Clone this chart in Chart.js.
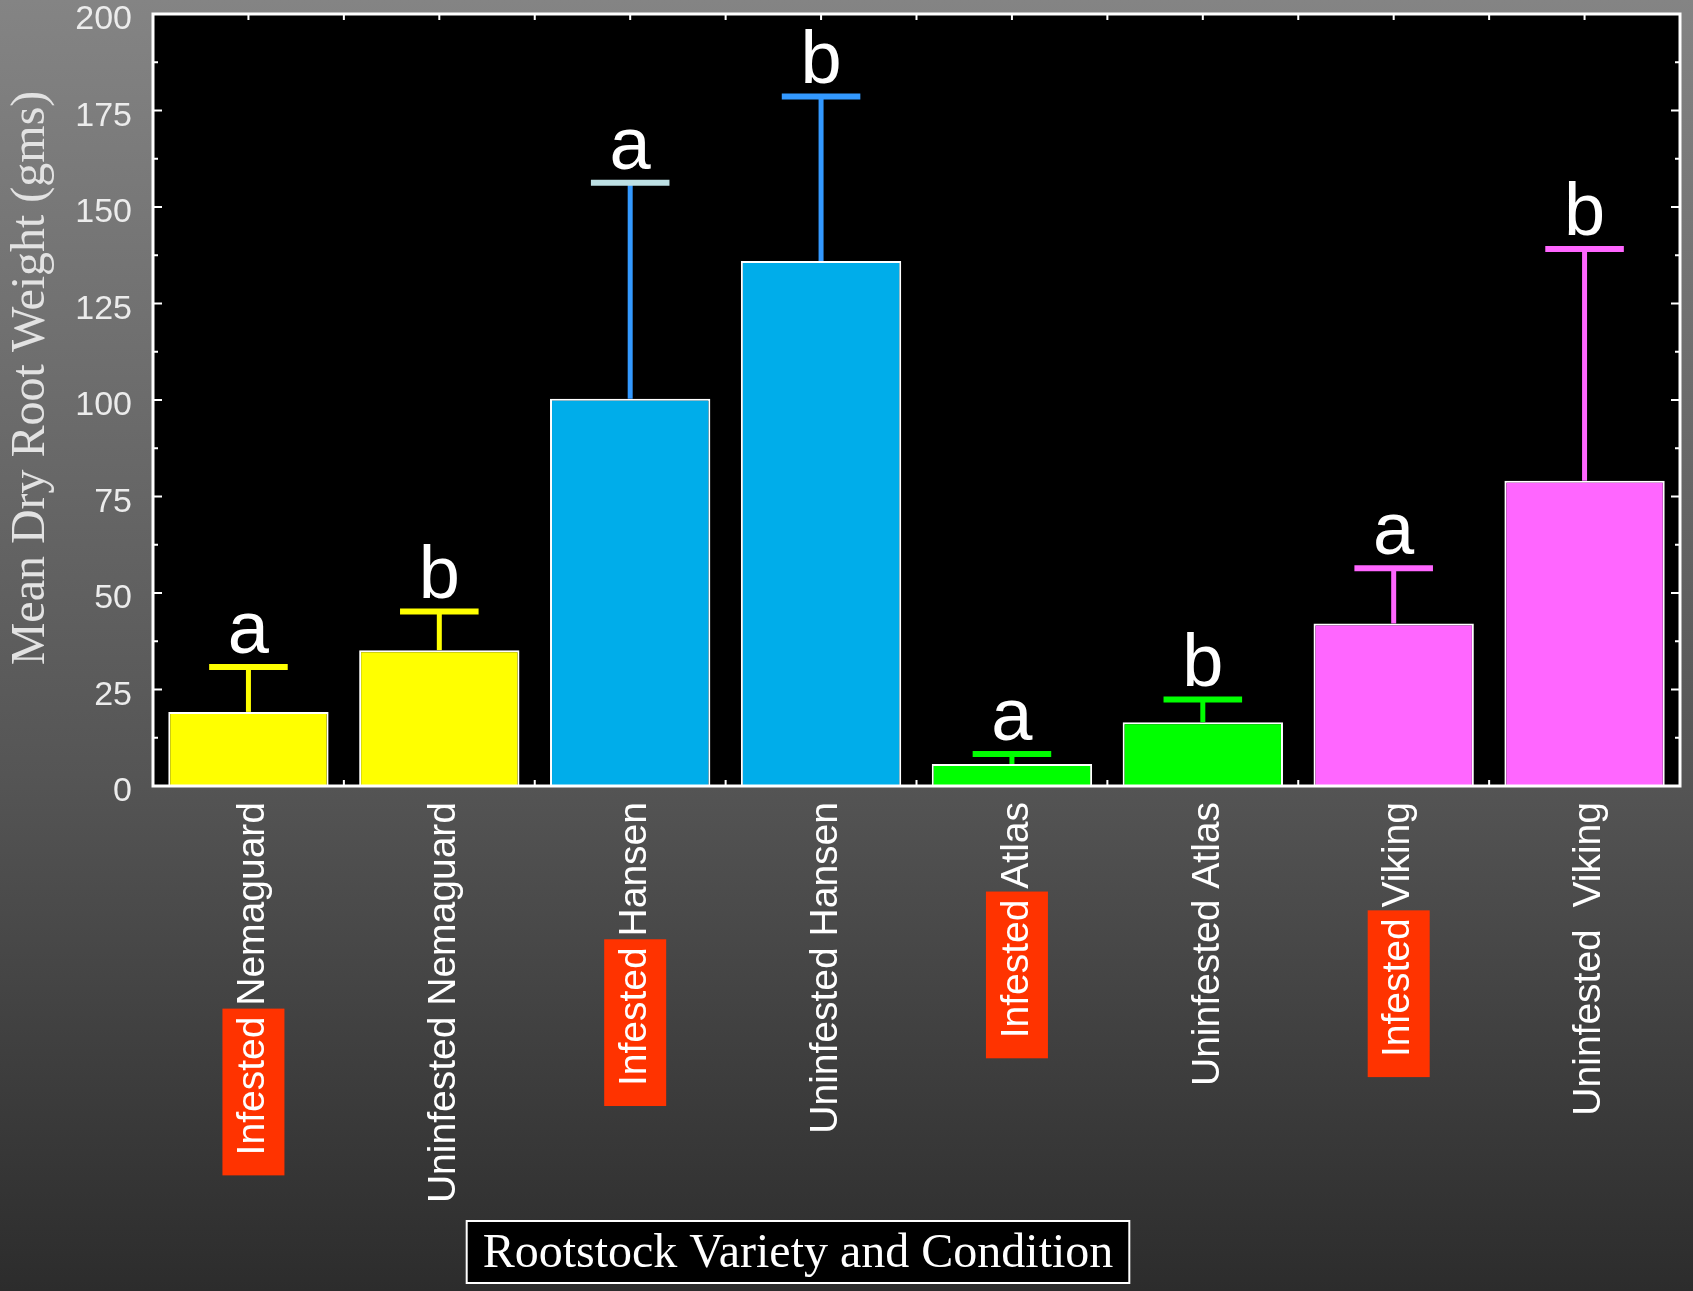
<!DOCTYPE html>
<html>
<head>
<meta charset="utf-8">
<title>Mean Dry Root Weight</title>
<script src="https://cdn.jsdelivr.net/npm/chart.js@4.4.0/dist/chart.umd.min.js"></script>
<style>
  html, body { margin: 0; padding: 0; background: #2b2b2b; }
  canvas { display: block; }
</style>
</head>
<body>
<canvas id="root-chart" width="1693" height="1291"></canvas>
<script>
// Chart values
const categories = [
  "Infested Nemaguard",
  "Uninfested Nemaguard",
  "Infested Hansen",
  "Uninfested Hansen",
  "Infested Atlas",
  "Uninfested Atlas",
  "Infested Viking",
  "Uninfested  Viking",
];
const meanWeight = [19.2, 35.2, 100.3, 136.0, 5.7, 16.5, 42.1, 79.1];
const stdError = [11.6, 10.0, 56.0, 42.6, 2.6, 5.9, 14.3, 60.0];
const groupLetters = ["a", "b", "a", "b", "a", "b", "a", "b"];
const yMin = 0;
const yMax = 200;
const yStep = 12.5; // minor ticks, labels every 25

const barColors = ["#ffff00", "#ffff00", "#00adea", "#00adea", "#00ff00", "#00ff00", "#ff66ff", "#ff66ff"];
const errorColors = ["#ffff00", "#ffff00", "#3399ff", "#3399ff", "#00ff00", "#00ff00", "#ff66ff", "#ff66ff"];
const capColors = ["#ffff00", "#ffff00", "#bde0e4", "#3399ff", "#00ff00", "#00ff00", "#ff66ff", "#ff66ff"];

const highlightWord = "Infested";
const yTitle = "Mean Dry Root Weight (gms)";
const xTitle = "Rootstock Variety and Condition";

const SANS = "'Liberation Sans', Arial, sans-serif";
const SERIF = "'Liberation Serif', 'Times New Roman', serif";

/**
 * Grey slide background and black plot area
 */
const backgroundPlugin = {
  id: "slideBackground",
  beforeDraw(chart) {
    const { ctx, width, height, chartArea } = chart;
    ctx.save();
    const grad = ctx.createLinearGradient(0, 0, 0, height);
    grad.addColorStop(0, "#848484");
    grad.addColorStop(0.6, "#555555");
    grad.addColorStop(1, "#2c2c2c");
    ctx.fillStyle = grad;
    ctx.fillRect(0, 0, width, height);
    ctx.fillStyle = "#000000";
    ctx.fillRect(chartArea.left, chartArea.top, chartArea.width, chartArea.height);
    ctx.restore();
  },
};

/**
 * Inward tick marks on all four sides
 */
const frameTicksPlugin = {
  id: "frameTicks",
  beforeDatasetsDraw(chart) {
    const { ctx, chartArea, scales } = chart;
    const y = scales.y;
    const x = scales.x;
    ctx.save();
    ctx.strokeStyle = "#ffffff";
    ctx.lineWidth = 2;
    ctx.beginPath();
    y.ticks.forEach((t) => {
      const py = y.getPixelForValue(t.value);
      const len = t.value % 25 === 0 ? 9 : 5;
      ctx.moveTo(chartArea.left, py);
      ctx.lineTo(chartArea.left + len, py);
      ctx.moveTo(chartArea.right, py);
      ctx.lineTo(chartArea.right - len, py);
    });
    const half = (x.getPixelForValue(1) - x.getPixelForValue(0)) / 2;
    for (let i = 0; i < categories.length; i++) {
      const cx = x.getPixelForValue(i);
      [cx - half, cx, cx + half].forEach((px) => {
        ctx.moveTo(px, chartArea.top);
        ctx.lineTo(px, chartArea.top + 6);
        ctx.moveTo(px, chartArea.bottom);
        ctx.lineTo(px, chartArea.bottom - 6);
      });
    }
    ctx.stroke();
    ctx.restore();
  },
};

/**
 * Error bars, group letters, plot frame and all axis text
 */
const annotationPlugin = {
  id: "annotations",
  afterDatasetsDraw(chart) {
    const { ctx, chartArea, scales } = chart;
    const meta = chart.getDatasetMeta(0);
    ctx.save();

    // Error bars (upper only) and letters
    meta.data.forEach((bar, i) => {
      const yBar = scales.y.getPixelForValue(meanWeight[i]);
      const yCap = scales.y.getPixelForValue(meanWeight[i] + stdError[i]);
      const capHalf = bar.width * 0.245;
      ctx.strokeStyle = errorColors[i];
      ctx.lineWidth = 5;
      ctx.beginPath();
      ctx.moveTo(bar.x, yBar);
      ctx.lineTo(bar.x, yCap);
      ctx.stroke();
      ctx.strokeStyle = capColors[i];
      ctx.lineWidth = 6;
      ctx.beginPath();
      ctx.moveTo(bar.x - capHalf, yCap);
      ctx.lineTo(bar.x + capHalf, yCap);
      ctx.stroke();

      ctx.fillStyle = "#ffffff";
      ctx.font = "74px " + SANS;
      ctx.textAlign = "center";
      ctx.textBaseline = "alphabetic";
      ctx.fillText(groupLetters[i], bar.x, yCap - 14);
    });

    // White frame round the plot
    ctx.strokeStyle = "#ffffff";
    ctx.lineWidth = 3;
    ctx.strokeRect(chartArea.left, chartArea.top, chartArea.width, chartArea.height);

    // Rotated category labels, "Infested" on a red box
    ctx.font = "39px " + SANS;
    ctx.textBaseline = "middle";
    ctx.textAlign = "right";
    categories.forEach((label, i) => {
      const px = scales.x.getPixelForValue(i) + 5;
      ctx.save();
      ctx.translate(px, chartArea.bottom + 16);
      ctx.rotate(-Math.PI / 2);
      const total = ctx.measureText(label).width;
      if (label.startsWith(highlightWord + " ")) {
        const w = ctx.measureText(highlightWord).width;
        ctx.fillStyle = "#ff3300";
        ctx.fillRect(-total - 20, -31, w + 28, 62);
      }
      ctx.fillStyle = "#ffffff";
      ctx.fillText(label, 0, 0);
      ctx.restore();
    });

    // Y axis title
    ctx.save();
    ctx.font = "48px " + SERIF;
    ctx.fillStyle = "#e2e2e2";
    ctx.textAlign = "center";
    ctx.textBaseline = "middle";
    ctx.translate(31, (chartArea.top + chartArea.bottom) / 2 - 22);
    ctx.rotate(-Math.PI / 2);
    ctx.fillText(yTitle, 0, 0);
    ctx.restore();

    // X axis title in a framed black box
    ctx.font = "48px " + SERIF;
    const tw = ctx.measureText(xTitle).width;
    const bx = 798;
    const by = 1252;
    const bw = tw + 32;
    const bh = 62;
    ctx.fillStyle = "#000000";
    ctx.fillRect(bx - bw / 2, by - bh / 2, bw, bh);
    ctx.strokeStyle = "#ffffff";
    ctx.lineWidth = 2;
    ctx.strokeRect(bx - bw / 2, by - bh / 2, bw, bh);
    ctx.fillStyle = "#ffffff";
    ctx.textAlign = "center";
    ctx.textBaseline = "middle";
    ctx.fillText(xTitle, bx, by + 2);

    ctx.restore();
  },
};

const chart = new Chart(document.getElementById("root-chart"), {
  type: "bar",
  data: {
    labels: categories,
    datasets: [
      {
        label: yTitle,
        data: meanWeight,
        backgroundColor: barColors,
        borderColor: "#ffffff",
        borderWidth: 2,
        categoryPercentage: 1.0,
        barPercentage: 0.84,
      },
    ],
  },
  options: {
    responsive: false,
    animation: false,
    layout: {
      padding: { top: 14, right: 13, bottom: 505, left: 0 },
    },
    plugins: {
      legend: { display: false },
      tooltip: { enabled: false },
    },
    scales: {
      x: {
        offset: true,
        grid: { display: false, drawTicks: false },
        border: { display: false },
        ticks: { display: false },
      },
      y: {
        min: yMin,
        max: yMax,
        // tick marks are drawn by frameTicksPlugin; tickLength only spaces the labels
        grid: { display: false, drawTicks: true, tickLength: 21 },
        border: { display: false },
        afterFit(scale) {
          scale.width = 153;
        },
        ticks: {
          stepSize: yStep,
          autoSkip: false,
          padding: 0,
          labelOffset: 6,
          color: "#ececec",
          font: { family: SANS, size: 34, lineHeight: 0.8 },
          callback: (value) => (value % 25 === 0 ? value : ""),
        },
      },
    },
  },
  plugins: [backgroundPlugin, frameTicksPlugin, annotationPlugin],
});
</script>
</body>
</html>
